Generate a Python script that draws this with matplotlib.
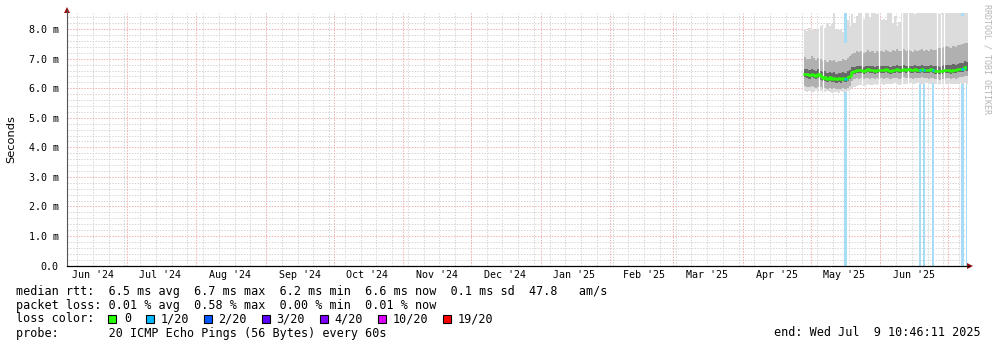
import matplotlib
matplotlib.use("Agg")
import matplotlib.pyplot as plt
import matplotlib.dates as mdates
from matplotlib.patches import Rectangle
import numpy as np
import pandas as pd

# ---- data -------------------------------------------------------------
t_start = pd.Timestamp("2024-06-04 10:46:11")
t_end = pd.Timestamp("2025-07-09 10:46:11")
days = pd.date_range("2025-04-28", "2025-07-09", freq="D")

rtt_median = [6.50, 6.47, 6.45, 6.49, 6.46, 6.43, 6.47, 6.41,
              6.36, 6.38, 6.33, 6.37, 6.32, 6.35, 6.30, 6.34, 6.31, 6.36, 6.33, 6.38, 6.42, 6.56,
              6.60, 6.62, 6.61, 6.63, 6.60, 6.62, 6.64, 6.61, 6.63, 6.60, 6.62, 6.61,
              6.63, 6.61, 6.64, 6.62, 6.60, 6.63, 6.62, 6.64, 6.61, 6.63,
              6.65, 6.62, 6.64, 6.63, 6.61, 6.64, 6.62, 6.63, 6.65, 6.62,
              6.63, 6.61, 6.64, 6.62, 6.60, 6.58, 6.57, 6.59, 6.61, 6.63,
              6.62, 6.60, 6.63, 6.61, 6.64, 6.65, 6.66, 6.72, 6.68]
rtt_min = [5.90, 5.87, 5.92, 5.86, 5.89, 5.93, 5.88, 5.90,
           5.85, 5.88, 5.91, 5.86, 5.84, 5.89, 5.87, 5.85, 5.90, 5.86, 5.88, 5.92, 5.95, 6.02,
           6.06, 6.09, 6.11, 6.12, 6.09, 6.11, 6.13, 6.10, 6.12, 6.14, 6.11, 6.13,
           6.15, 6.12, 6.14, 6.16, 6.13, 6.15, 6.17, 6.14, 6.12, 6.15,
           6.16, 6.13, 6.15, 6.17, 6.14, 6.16, 6.18, 6.15, 6.13, 6.16,
           6.17, 6.14, 6.16, 6.18, 6.15, 6.12, 6.14, 6.16, 6.13, 6.15,
           6.17, 6.14, 6.16, 6.15, 6.13, 6.17, 6.15, 6.18, 6.16]
rtt_p10 = [6.08, 6.06, 6.05, 6.09, 6.04, 6.02, 6.06, 6.03,
           5.99, 6.02, 5.98, 6.01, 5.97, 6.00, 5.96, 5.99, 5.97, 6.01, 5.98, 6.02, 6.08, 6.25,
           6.32, 6.34, 6.33, 6.35, 6.32, 6.34, 6.36, 6.33, 6.35, 6.32, 6.34, 6.33,
           6.35, 6.33, 6.36, 6.34, 6.32, 6.35, 6.34, 6.36, 6.33, 6.35,
           6.37, 6.34, 6.36, 6.35, 6.33, 6.36, 6.34, 6.35, 6.37, 6.34,
           6.35, 6.33, 6.36, 6.34, 6.32, 6.30, 6.29, 6.31, 6.33, 6.35,
           6.34, 6.32, 6.35, 6.33, 6.36, 6.37, 6.38, 6.42, 6.40]
rtt_p25 = [6.38, 6.35, 6.33, 6.37, 6.34, 6.31, 6.35, 6.29,
           6.24, 6.26, 6.21, 6.25, 6.20, 6.23, 6.18, 6.22, 6.19, 6.24, 6.21, 6.26, 6.30, 6.45,
           6.50, 6.52, 6.51, 6.53, 6.50, 6.52, 6.54, 6.51, 6.53, 6.50, 6.52, 6.51,
           6.53, 6.51, 6.54, 6.52, 6.50, 6.53, 6.52, 6.54, 6.51, 6.53,
           6.55, 6.52, 6.54, 6.53, 6.51, 6.54, 6.52, 6.53, 6.55, 6.52,
           6.53, 6.51, 6.54, 6.52, 6.50, 6.48, 6.47, 6.49, 6.51, 6.53,
           6.52, 6.50, 6.53, 6.51, 6.54, 6.55, 6.56, 6.62, 6.58]
rtt_p75 = [6.66, 6.64, 6.62, 6.66, 6.63, 6.60, 6.64, 6.59,
           6.55, 6.57, 6.52, 6.56, 6.51, 6.54, 6.50, 6.53, 6.51, 6.56, 6.53, 6.58, 6.62, 6.72,
           6.72, 6.75, 6.74, 6.76, 6.72, 6.75, 6.77, 6.74, 6.76, 6.73, 6.75, 6.74,
           6.76, 6.74, 6.77, 6.75, 6.73, 6.76, 6.75, 6.78, 6.74, 6.76,
           6.79, 6.75, 6.77, 6.76, 6.74, 6.78, 6.76, 6.77, 6.80, 6.76,
           6.77, 6.75, 6.79, 6.77, 6.75, 6.74, 6.73, 6.76, 6.78, 6.80,
           6.80, 6.78, 6.82, 6.80, 6.84, 6.85, 6.87, 6.92, 6.89]
rtt_p90 = [7.05, 7.00, 6.98, 7.08, 7.02, 6.95, 7.04, 6.98,
           6.93, 6.97, 6.90, 6.96, 6.91, 6.95, 6.89, 6.94, 6.92, 6.98, 6.95, 7.02, 7.08, 7.15,
           7.20, 7.25, 7.22, 7.28, 7.18, 7.24, 7.30, 7.22, 7.26, 7.20, 7.25, 7.23,
           7.28, 7.24, 7.30, 7.26, 7.22, 7.29, 7.27, 7.32, 7.25, 7.28,
           7.33, 7.26, 7.30, 7.28, 7.24, 7.31, 7.27, 7.29, 7.34, 7.28,
           7.30, 7.27, 7.33, 7.31, 7.29, 7.35, 7.38, 7.36, 7.40, 7.42,
           7.40, 7.38, 7.44, 7.41, 7.45, 7.48, 7.50, 7.55, 7.52]
rtt_max = [8.00, 7.95, 8.05, 7.98, 8.02, 7.96, 8.00, 8.10,
           8.15, 8.05, 8.20, 8.12, 8.18, 8.55, 8.00, 7.98, 8.02, 7.90, 7.55, 8.30, 8.10, 8.50,
           8.20, 8.45, 8.60, 8.60, 8.35, 8.60, 8.60, 8.40, 8.60, 8.60, 8.50, 8.60,
           8.30, 8.35, 8.30, 8.60, 8.60, 8.20, 8.45, 8.10, 8.25, 8.60,
           8.60, 8.55, 8.60, 8.60, 8.60, 8.50, 8.60, 8.60, 8.60, 8.60,
           8.55, 8.60, 8.60, 8.60, 8.60, 8.60, 8.50, 8.60, 8.60, 8.60,
           8.60, 8.60, 8.60, 8.55, 8.60, 8.60, 8.45, 8.60, 8.60]
# lost pings out of 20 per day
loss = [0] * 73
for i in [18, 51, 53, 57, 70, 72]:
    loss[i] = 1

gap_times = ["2025-05-04 12:00", "2025-05-06 06:00", "2025-05-23 14:00",
             "2025-05-31 10:00", "2025-06-10 16:00", "2025-06-13 08:00",
             "2025-06-26 02:00", "2025-06-27 22:00", "2025-06-29 05:00"]

loss_labels = ["0", "1/20", "2/20", "3/20", "4/20", "10/20", "19/20"]
loss_colors = ["#26ff00", "#00b8ff", "#0059ff", "#5e00ff", "#7e00ff", "#dd00ff", "#ff0000"]

legend_lines = [
    "median rtt:  6.5 ms avg  6.7 ms max  6.2 ms min  6.6 ms now  0.1 ms sd  47.8   am/s",
    "packet loss: 0.01 % avg  0.58 % max  0.00 % min  0.01 % now",
    "loss color:",
    "probe:       20 ICMP Echo Pings (56 Bytes) every 60s",
]
end_text = "end: Wed Jul  9 10:46:11 2025"

# ---- figure -----------------------------------------------------------
W, H = 997, 347
mono = "DejaVu Sans Mono"
fig = plt.figure(figsize=(W / 100, H / 100), dpi=100)
fig.patch.set_facecolor("white")
ax = fig.add_axes([67 / W, 1 - 265.5 / H, 900 / W, 252.5 / H])
ax.set_facecolor("white")

x0, x1 = mdates.date2num(t_start), mdates.date2num(t_end)
ax.set_xlim(x0, x1)
ax.set_ylim(0, 8.55)

# grid
dot = (0, (1.4, 1.4))
for v in np.arange(0.2, 8.55, 0.2):
    if abs(v - round(v)) > 0.01:
        ax.axhline(v, color="#d6d6d6", lw=0.72, ls=dot, zorder=0)
for d in pd.date_range(t_start, t_end, freq="W-SUN").normalize():
    ax.axvline(mdates.date2num(d), color="#d6d6d6", lw=0.72, ls=dot, zorder=0)
for v in range(1, 9):
    ax.axhline(v, color="#efb0b0", lw=0.72, ls=dot, zorder=0.5)
months = pd.date_range("2024-07-01", "2025-07-01", freq="MS")
for d in months:
    ax.axvline(mdates.date2num(d), color="#efb0b0", lw=0.72, ls=dot, zorder=0.5)

# data
xd = np.append(mdates.date2num(days), mdates.date2num(days[-1]) + 1)


def ext(a):
    return np.append(a, a[-1])


# loss background
for i, l in enumerate(loss):
    if l > 0:
        ax.axvspan(xd[i], min(xd[i + 1], x1), color="#a6dcf6", lw=0, zorder=1)

ax.fill_between(xd, ext(rtt_min), ext(rtt_max), step="post", color="#dcdcdc", lw=0, zorder=2)
ax.fill_between(xd, ext(rtt_p10), ext(rtt_p90), step="post", color="#b0b0b0", lw=0, zorder=2.1)
ax.fill_between(xd, ext(rtt_p25), ext(rtt_p75), step="post", color="#686868", lw=0, zorder=2.2)

for g in gap_times:
    gx = mdates.date2num(pd.Timestamp(g))
    i = int(np.searchsorted(xd, gx) - 1)
    ax.vlines(gx, rtt_min[i], rtt_max[i], color="white", lw=0.9, zorder=2.5)

ax.step(xd, ext(rtt_median), where="post", color=loss_colors[0], lw=1.8, zorder=3)
for i, l in enumerate(loss):
    if l > 0:
        ax.hlines(rtt_median[i], xd[i], min(xd[i + 1], x1), color=loss_colors[min(l, 6)],
                  lw=1.8, zorder=3.1)

# axes
for s in ["top", "right"]:
    ax.spines[s].set_visible(False)
ax.spines["left"].set_color("#555555")
ax.spines["left"].set_linewidth(0.8)
ax.spines["bottom"].set_color("black")
ax.spines["bottom"].set_linewidth(0.9)

ax.set_yticks(range(0, 9))
ax.set_yticklabels(["0.0"] + [f"{v}.0 m" for v in range(1, 9)], family=mono, fontsize=7.2)
label_months = pd.date_range("2024-06-01", "2025-06-01", freq="MS")
ax.set_xticks([mdates.date2num(d + pd.Timedelta(days=15)) for d in label_months])
ax.set_xticklabels([d.strftime("%b '%y") for d in label_months], family=mono, fontsize=7.2)
ax.tick_params(axis="y", length=0, pad=6)
ax.tick_params(axis="x", length=0, pad=3)

# arrows
fig.add_artist(plt.Line2D([67 / W], [1 - 10 / H], marker="^", ms=4.5, mew=0, color="#9a1010",
                          transform=fig.transFigure))
fig.add_artist(plt.Line2D([970 / W], [1 - 265.5 / H], marker=">", ms=4.5, mew=0, color="#9a1010",
                          transform=fig.transFigure))
fig.add_artist(plt.Line2D([967 / W, 969 / W], [1 - 265.5 / H] * 2, lw=0.9, color="black",
                          transform=fig.transFigure))
fig.add_artist(plt.Line2D([67 / W] * 2, [1 - 13 / H, 1 - 10 / H], lw=0.8, color="#555555",
                          transform=fig.transFigure))

fig.text(11 / W, 1 - 139 / H, "Seconds", rotation=90, ha="center", va="center",
         fontsize=8.2, family="DejaVu Sans")
fig.text(987 / W, 1 - 4 / H, "RRDTOOL / TOBI OETIKER", rotation=270, ha="center", va="top",
         fontsize=6, family=mono, color="#b4b4b4")

# legend
line_y = [291, 305, 319, 333]
for txt, py in zip(legend_lines, line_y):
    fig.text(16 / W, 1 - py / H, txt, family=mono, fontsize=8.5, va="center", ha="left")
swatch_x = [108, 146, 204, 262, 320, 378, 443]
label_x = [124, 160.5, 218.5, 276.5, 334.5, 393, 458]
for sx, lx, lab, col in zip(swatch_x, label_x, loss_labels, loss_colors):
    fig.add_artist(Rectangle((sx / W, 1 - 323 / H), 8 / W, 8 / H, facecolor=col,
                             edgecolor="black", lw=0.8, transform=fig.transFigure))
    fig.text(lx / W, 1 - 319 / H, lab, family=mono, fontsize=8.5, va="center", ha="left")
fig.text(981 / W, 1 - 333 / H, end_text, family=mono, fontsize=8.5, va="center", ha="right")

fig.savefig("out.png", dpi=100)
